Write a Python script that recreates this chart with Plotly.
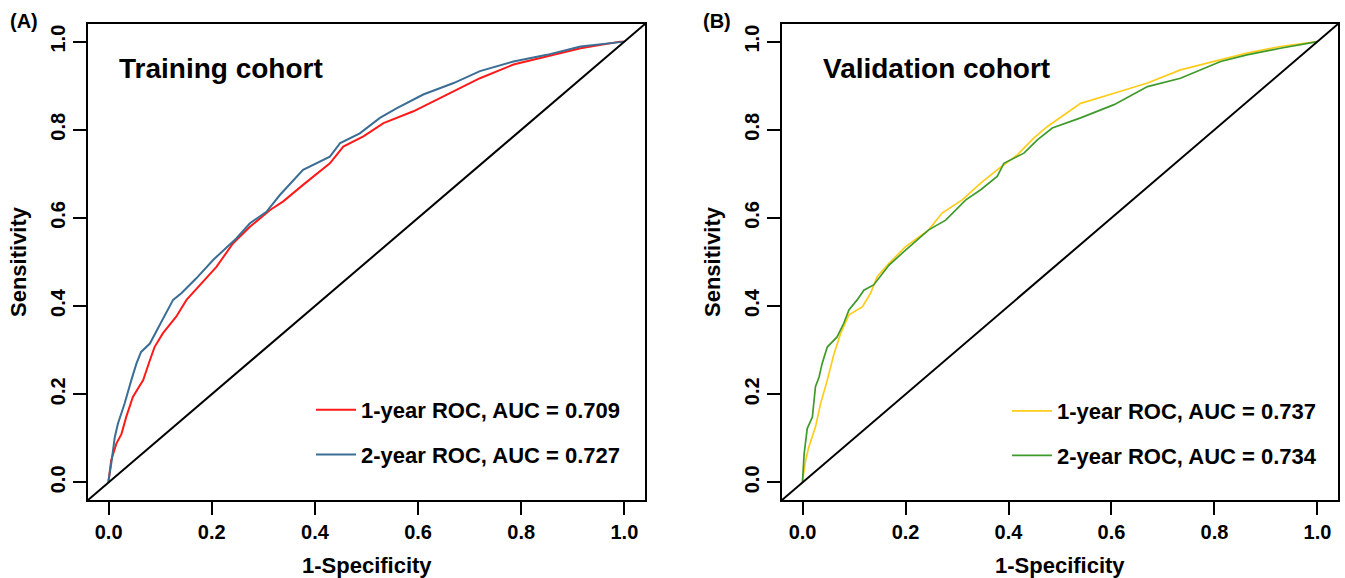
import plotly.graph_objects as go

# ---------------- data ----------------
train_1y_fpr = [0.0, 0.0, 0.005, 0.015, 0.025, 0.034, 0.047, 0.067, 0.080, 0.089, 0.105, 0.131, 0.151,
                0.177, 0.209, 0.241, 0.274, 0.313, 0.338, 0.377, 0.429, 0.455, 0.494, 0.533, 0.591,
                0.656, 0.720, 0.785, 0.850, 0.915, 0.992, 1.0]
train_1y_tpr = [0.0, 0.005, 0.050, 0.088, 0.110, 0.148, 0.194, 0.232, 0.277, 0.307, 0.338, 0.376, 0.414,
                0.448, 0.489, 0.542, 0.580, 0.618, 0.637, 0.675, 0.724, 0.762, 0.785, 0.815, 0.842,
                0.880, 0.917, 0.948, 0.967, 0.985, 1.0, 1.0]

train_2y_fpr = [0.0, 0.0, 0.005, 0.012, 0.018, 0.031, 0.044, 0.054, 0.063, 0.080, 0.099, 0.125, 0.141,
                0.170, 0.203, 0.248, 0.274, 0.306, 0.332, 0.377, 0.429, 0.449, 0.487, 0.526, 0.559,
                0.610, 0.669, 0.720, 0.785, 0.850, 0.915, 0.992, 1.0]
train_2y_tpr = [0.0, 0.005, 0.042, 0.103, 0.133, 0.179, 0.232, 0.270, 0.296, 0.315, 0.357, 0.414, 0.429,
                0.463, 0.505, 0.554, 0.588, 0.614, 0.652, 0.709, 0.739, 0.770, 0.792, 0.827, 0.849,
                0.880, 0.906, 0.933, 0.955, 0.970, 0.989, 1.0, 1.0]

valid_1y_fpr = [0.0, 0.0, 0.006, 0.012, 0.025, 0.035, 0.048, 0.061, 0.074, 0.090, 0.116, 0.132, 0.145,
                0.168, 0.200, 0.245, 0.271, 0.310, 0.346, 0.378, 0.417, 0.449, 0.475, 0.540, 0.605,
                0.670, 0.734, 0.812, 0.863, 0.928, 0.993, 1.0]
valid_1y_tpr = [0.0, 0.005, 0.050, 0.080, 0.126, 0.179, 0.232, 0.292, 0.338, 0.380, 0.398, 0.429, 0.467,
                0.497, 0.535, 0.573, 0.611, 0.641, 0.679, 0.709, 0.743, 0.781, 0.807, 0.860, 0.883,
                0.906, 0.936, 0.959, 0.974, 0.989, 1.0, 1.0]

valid_2y_fpr = [0.0, 0.0, 0.003, 0.009, 0.019, 0.025, 0.032, 0.038, 0.048, 0.067, 0.080, 0.090, 0.106,
                0.119, 0.138, 0.168, 0.200, 0.245, 0.278, 0.317, 0.346, 0.378, 0.391, 0.430, 0.456,
                0.485, 0.540, 0.605, 0.670, 0.734, 0.812, 0.863, 0.928, 0.993, 1.0]
valid_2y_tpr = [0.0, 0.005, 0.065, 0.122, 0.148, 0.217, 0.239, 0.270, 0.307, 0.330, 0.361, 0.391, 0.414,
                0.436, 0.448, 0.493, 0.527, 0.573, 0.595, 0.641, 0.664, 0.694, 0.724, 0.747, 0.777,
                0.804, 0.827, 0.857, 0.898, 0.917, 0.955, 0.970, 0.985, 1.0, 1.0]

labels_train = ["1-year ROC, AUC = 0.709", "2-year ROC, AUC = 0.727"]
labels_valid = ["1-year ROC, AUC = 0.737", "2-year ROC, AUC = 0.734"]
panel_titles = ["Training cohort", "Validation cohort"]
panel_tags = ["(A)", "(B)"]
tick_vals = [0.0, 0.2, 0.4, 0.6, 0.8, 1.0]
tick_text = ["0.0", "0.2", "0.4", "0.6", "0.8", "1.0"]
AXIS_RANGE = [-0.04, 1.04]

# ---------------- styling ----------------
FONT = "Liberation Sans, Arial, sans-serif"
W, H = 1345, 578
C_RED, C_BLUE = "#FF1A1A", "#3B6E95"
C_YEL, C_GRN = "#FFCC1A", "#3E9A2A"

fig = go.Figure()

def add_curve(x, y, name, color, xa, ya, legend, width):
    fig.add_trace(go.Scatter(x=x, y=y, mode="lines", name=name, xaxis=xa, yaxis=ya,
                             legend=legend, legendgroup=name,
                             line=dict(color=color, width=width)))

add_curve(train_1y_fpr, train_1y_tpr, labels_train[0], C_RED, "x", "y", "legend", 2)
add_curve(train_2y_fpr, train_2y_tpr, labels_train[1], C_BLUE, "x", "y", "legend", 2)
add_curve(valid_1y_fpr, valid_1y_tpr, labels_valid[0], C_YEL, "x2", "y2", "legend2", 1.7)
add_curve(valid_2y_fpr, valid_2y_tpr, labels_valid[1], C_GRN, "x2", "y2", "legend2", 1.7)

# diagonal reference lines (abline 0,1)
for xa, ya in (("x", "y"), ("x2", "y2")):
    fig.add_trace(go.Scatter(x=AXIS_RANGE, y=AXIS_RANGE, mode="lines", xaxis=xa, yaxis=ya,
                             showlegend=False, hoverinfo="skip",
                             line=dict(color="black", width=2)))

xdom1 = [88 / W, 645 / W]
xdom2 = [782 / W, 1338 / W]
ydom = [1 - 500 / H, 1 - 24 / H]

axis_common = dict(range=AXIS_RANGE, showgrid=False, zeroline=False, showline=True,
                   linecolor="black", linewidth=2, mirror=True, ticks="outside",
                   ticklen=13, tickwidth=2, tickcolor="black",
                   tickvals=tick_vals, ticktext=tick_text,
                   tickfont=dict(family=FONT, size=20, color="black", weight="bold"))
title_font = dict(family=FONT, size=22, color="black", weight="bold")
legend_font = dict(family=FONT, size=22, color="black", weight="bold")

fig.update_layout(
    width=W, height=H,
    margin=dict(l=0, r=0, t=0, b=0),
    paper_bgcolor="white", plot_bgcolor="white",
    xaxis=dict(domain=xdom1, anchor="y", **axis_common),
    yaxis=dict(domain=ydom, anchor="x", tickangle=-90, **axis_common),
    xaxis2=dict(domain=xdom2, anchor="y2", **axis_common),
    yaxis2=dict(domain=ydom, anchor="x2", tickangle=-90, **axis_common),
    legend=dict(x=311 / W, y=1 - 389 / H, xanchor="left", yanchor="top", itemwidth=40,
                bgcolor="rgba(0,0,0,0)", borderwidth=0, tracegroupgap=13, font=legend_font),
    legend2=dict(x=1007 / W, y=1 - 390 / H, xanchor="left", yanchor="top", itemwidth=40,
                 bgcolor="rgba(0,0,0,0)", borderwidth=0, tracegroupgap=13, font=legend_font),
)

annotations = []
for xc, yc in ((366.5, 565), (1059.5, 565)):
    annotations.append(dict(text="1-Specificity", x=xc / W, y=1 - yc / H, xref="paper", yref="paper",
                            showarrow=False, xanchor="center", yanchor="middle", font=title_font))
for xc in (18, 712):
    annotations.append(dict(text="Sensitivity", x=xc / W, y=1 - 262 / H, xref="paper", yref="paper",
                            showarrow=False, xanchor="center", yanchor="middle", textangle=-90,
                            font=title_font))
for txt, xl in zip(panel_titles, (117, 821)):
    annotations.append(dict(text=txt, x=xl / W, y=1 - 68 / H, xref="paper", yref="paper",
                            showarrow=False, xanchor="left", yanchor="middle",
                            font=dict(family=FONT, size=28, color="black", weight="bold")))
for txt, xl in zip(panel_tags, (8, 701)):
    annotations.append(dict(text=txt, x=xl / W, y=1 - 21 / H, xref="paper", yref="paper",
                            showarrow=False, xanchor="left", yanchor="middle",
                            font=dict(family=FONT, size=20, color="black", weight="bold")))
fig.update_layout(annotations=annotations)

fig.write_html("out.html", config={"displayModeBar": False},
               post_script="document.body.style.margin='0';")
